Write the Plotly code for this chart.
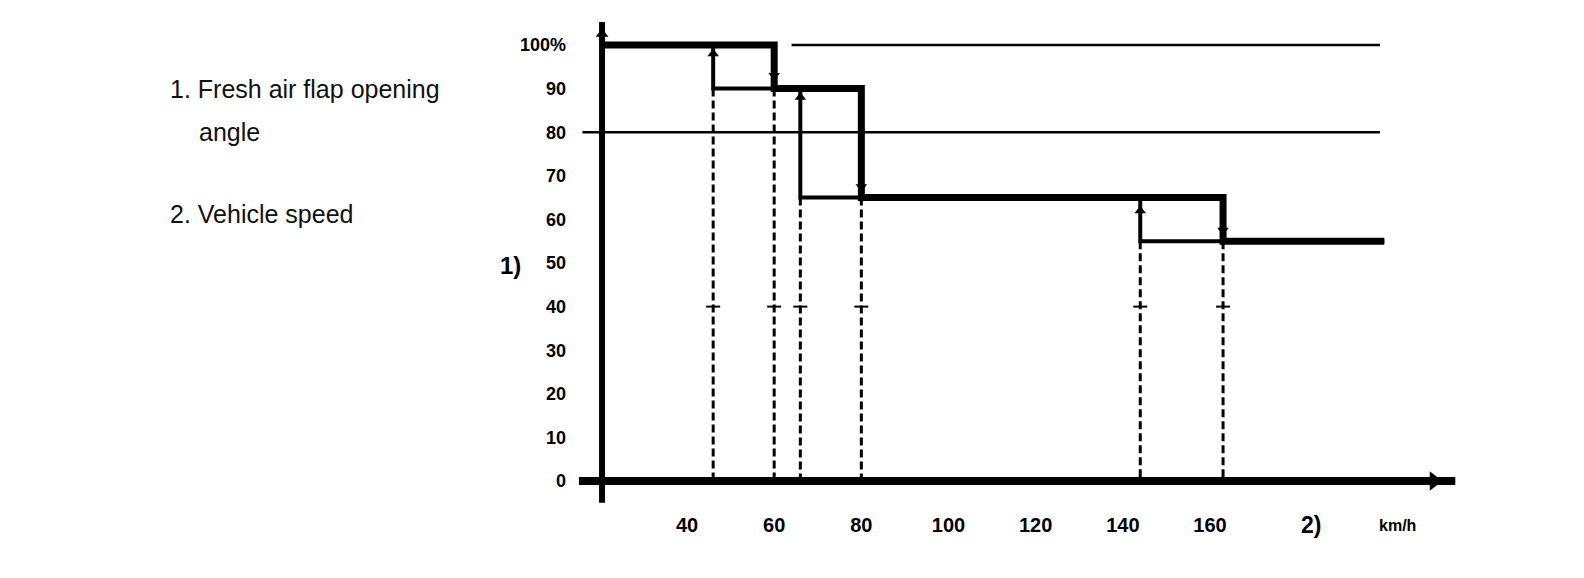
import plotly.graph_objects as go

# Fresh air flap opening angle (%) vs. vehicle speed (km/h), hysteresis steps
speed_rising = [20.5, 60, 60, 80, 80, 163, 163, 200]
flap_rising = [100, 100, 90, 90, 65, 65, 55, 55]
speed_falling = [200, 144, 144, 66, 66, 46, 46, 20.5]
flap_falling = [55, 55, 65, 65, 90, 90, 100, 100]

# dashed drop lines from each switching point down to the speed axis
switch_speed = [46, 60, 66, 80, 144, 163]
switch_level = [90, 90, 65, 65, 55, 55]

# small direction arrows sitting on the switching edges
arrow_level = [98, 93, 88, 67.5, 62, 57.5]
arrow_symbol = ["triangle-up", "triangle-down", "triangle-up",
                "triangle-down", "triangle-up", "triangle-down"]

# thin reference lines
ref_level = [100, 80]
ref_from = [64, 16]
ref_to = [199, 199]

x_ticks = [40, 60, 80, 100, 120, 140, 160]
y_ticks = [0, 10, 20, 30, 40, 50, 60, 70, 80, 90, 100]
y_ticktext = ["0", "10", "20", "30", "40", "50", "60", "70", "80", "90", "100%"]

W, H = 1584, 578
BLACK = "#000000"
FONT = "Liberation Sans, Arial"
TEXT_FONT = dict(family=FONT, size=25, color="#111111")

fig = go.Figure()

# reference lines
for lvl, a, b in zip(ref_level, ref_from, ref_to):
    fig.add_trace(go.Scatter(x=[a, b], y=[lvl, lvl], mode="lines",
                             line=dict(color=BLACK, width=2.5), hoverinfo="skip"))

# dashed drop lines
dx, dy = [], []
for s, lvl in zip(switch_speed, switch_level):
    dx += [s, s, None]
    dy += [lvl, 0, None]
fig.add_trace(go.Scatter(x=dx, y=dy, mode="lines",
                         line=dict(color=BLACK, width=3, dash="8px,4px"),
                         hoverinfo="skip"))

# falling-speed path (thinner verticals), then rising path
fig.add_trace(go.Scatter(x=speed_falling, y=flap_falling, mode="lines",
                         line=dict(color=BLACK, width=4), hoverinfo="skip"))
fig.add_trace(go.Scatter(x=speed_rising, y=flap_rising, mode="lines",
                         line=dict(color=BLACK, width=7), hoverinfo="skip"))

# arrows on the edges
fig.add_trace(go.Scatter(x=switch_speed, y=arrow_level, mode="markers",
                         marker=dict(symbol=arrow_symbol, size=10, color=BLACK),
                         hoverinfo="skip"))

# small tick marks across the drop lines at 40 %
fig.add_trace(go.Scatter(x=switch_speed, y=[40] * len(switch_speed), mode="markers",
                         marker=dict(symbol="line-ew", size=10,
                                     line=dict(color=BLACK, width=2)),
                         hoverinfo="skip"))

# axis arrowheads
fig.add_trace(go.Scatter(x=[211.4], y=[0], mode="markers",
                         marker=dict(symbol="triangle-right", size=17, color=BLACK),
                         hoverinfo="skip"))
fig.add_trace(go.Scatter(x=[20.5], y=[102.5], mode="markers",
                         marker=dict(symbol="triangle-up", size=11, color=BLACK),
                         hoverinfo="skip"))


def note(text, x, y, font, anchor="left"):
    # positions in figure pixels (page has an 8px body margin)
    return dict(text=text, x=x / W, y=1 - y / H, xref="paper", yref="paper",
                xanchor=anchor, yanchor="middle", showarrow=False, font=font)


fig.update_layout(
    width=W, height=H,
    autosize=False,
    margin=dict(l=0, r=0, t=0, b=0),
    paper_bgcolor="white",
    plot_bgcolor="white",
    showlegend=False,
    shapes=[
        dict(type="line", xref="x", yref="y", x0=15.2, x1=216.3, y0=0, y1=0,
             line=dict(color=BLACK, width=8)),
        dict(type="line", xref="x", yref="y", x0=20.5, x1=20.5, y0=-5, y1=105.3,
             line=dict(color=BLACK, width=6)),
    ],
    annotations=[
        note("1. Fresh air flap opening", 160, 81, TEXT_FONT),
        note("angle", 189, 124, TEXT_FONT),
        note("2. Vehicle speed", 160, 206, TEXT_FONT),
        note("<b>1)</b>", 502, 257, dict(family=FONT, size=24, color=BLACK), "center"),
        note("<b>2)</b>", 1303, 517, dict(family=FONT, size=23, color=BLACK), "center"),
        note("<b>km/h</b>", 1389, 517, dict(family=FONT, size=16, color=BLACK), "center"),
    ],
)

fig.update_xaxes(
    range=[-115.81, 247.66],
    anchor="free", position=105 / H,
    tickvals=x_ticks,
    ticktext=[f"<b>{v}</b>" for v in x_ticks],
    tickfont=dict(family=FONT, size=20, color=BLACK),
    ticks="", ticklabelstandoff=30,
    showgrid=False, zeroline=False, showline=False,
    automargin=False, fixedrange=True,
)
fig.update_yaxes(
    range=[-24.08, 108.49],
    anchor="free", position=594 / W,
    tickvals=y_ticks,
    ticktext=[f"<b>{t}</b>" for t in y_ticktext],
    tickfont=dict(family=FONT, size=18, color=BLACK),
    ticks="", ticklabelstandoff=36,
    showgrid=False, zeroline=False, showline=False,
    automargin=False, fixedrange=True,
)

fig.write_html("out.html")
